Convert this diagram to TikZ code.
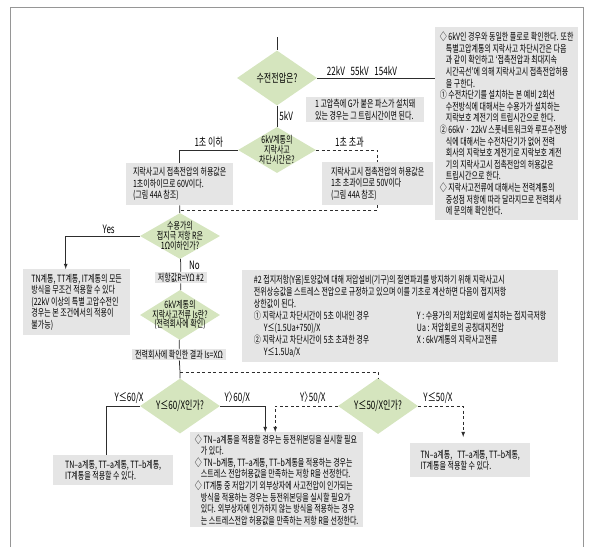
\documentclass[tikz,border=0pt]{standalone}
\usepackage{fontspec}
\setmainfont[FakeStretch=0.7]{Noto Sans CJK KR}
\usetikzlibrary{shapes.geometric}

\definecolor{askgreen}{RGB}{213,229,190}
\definecolor{notegray}{RGB}{229,229,229}
\definecolor{framegray}{RGB}{150,150,150}
\definecolor{flowline}{RGB}{45,45,45}

\tikzset{
  ask/.style={diamond, fill=askgreen, align=center, inner sep=-8pt, aspect=1.6,
    minimum width=80, minimum height=50, font=\fontsize{10}{9.8}\selectfont},
  bigask/.style={ask, font=\fontsize{11.5}{12}\selectfont},
  note/.style={fill=notegray, align=left, anchor=north west,
    inner xsep=3pt, inner ysep=2pt, font=\fontsize{10}{11.6}\selectfont},
  tag/.style={fill=notegray, inner xsep=3pt, inner ysep=1pt,
    font=\fontsize{10}{10}\selectfont},
  flow/.style={draw=flowline, line width=0.75pt},
  flowdash/.style={flow, dash pattern=on 3pt off 2.5pt},
  answer/.style={font=\fontsize{11.5}{12}\selectfont, inner sep=2pt}
}

\begin{document}
\begin{tikzpicture}[x=1pt, y=-1pt]
  \useasboundingbox (0, 0) rectangle (591, 547);
  \draw [framegray, line width=1pt] (10, 547) |- (583, 7) -- (583, 547);

  \coordinate (start) at (277, 37);
  \node (voltQ) [bigask, minimum height=55] at (277, 78) {수전전압은?};
  \node (tripQ) [ask, minimum width=78, minimum height=46] at (277, 150) {
    6kV계통의\\지락사고\\차단시간은?
  };
  \node (gNote) [note, minimum width=118, minimum height=25] at (306, 97) {
    1 고압측에 G가 붙은 파스가 설치돼\\
    있는 경우는 그 트립시간이면 된다.
  };
  \node (voltNote) [note, minimum width=143, minimum height=193] at (435, 27) {
    ◇ 6kV인 경우와 동일한 플로로 확인한다. 또한\\
    \hspace*{6pt}특별고압계통의 지락사고 차단시간은 다음\\
    \hspace*{6pt}과 같이 확인하고 `접촉전압과 최대지속\\
    \hspace*{6pt}시간곡선'에 의해 지락사고시 접촉전압허용\\
    \hspace*{6pt}을 구한다.\\
    ① 수전차단기를 설치하는 본 예비 2회선\\
    \hspace*{6pt}수전방식에 대해서는 수용가가 설치하는\\
    \hspace*{6pt}지락보호 계전기의 트립시간으로 한다.\\
    ② 66kV · 22kV 스폿네트워크와 루프수전방\\
    \hspace*{6pt}식에 대해서는 수전차단기가 없어 전력\\
    \hspace*{6pt}회사의 지락보호 계전기로 지락보호 계전\\
    \hspace*{6pt}기의 지락사고시 접촉전압의 허용값은\\
    \hspace*{6pt}트립시간으로 한다.\\
    ◇ 지락사고전류에 대해서는 전력계통의\\
    \hspace*{6pt}중성점 저항에 따라 달라지므로 전력회사\\
    \hspace*{6pt}에 문의해 확인한다.
  };

  \node (shortBox) [note, minimum width=107, minimum height=42] at (126, 163) {
    지락사고시 접촉전압의 허용값은\\
    1초이하이므로 60V이다.\\
    (그림 44A 참조)
  };
  \node (longBox) [note, minimum width=111, minimum height=43] at (322, 162) {
    지락사고시 접촉전압의 허용값은\\
    1초 초과이므로 50V이다\\
    (그림 44A 참조)
  };

  \node (groundQ) [ask, minimum height=46] at (180, 236) {
    수용가의\\접지극 저항 R은\\1Ω이하인가?
  };
  \node (allBox) [note, minimum width=107, minimum height=66] at (23, 269) {
    TN계통, TT계통, IT계통의 모든\\
    방식을 무조건 적용할 수 있다\\
    (22kV 이상의 특별 고압수전인\\
    경우는 본 조건에서의 적용이\\
    불가능)
  };
  \node (resBox) [tag] at (181, 277.5) {저항값R=YΩ \#2};
  \node (currentQ) [ask, minimum height=50] at (180, 315) {
    6kV계통의\\지락사고전류 Is란?\\(전력회사에 확인)
  };
  \node (resultBox) [tag] at (179, 354.5) {전력회사에 확인한 결과 Is=XΩ};

  \node (limitNote) [note, inner xsep=7pt, minimum width=316, minimum height=92,
    font=\fontsize{10}{12}\selectfont] at (242, 270) {
    \#2 접지저항(Y옴)토양값에 대해 저압설비(기구)의 절연파괴를 방지하기 위해 지락사고시\\
    전위상승값을 스트레스 전압으로 규정하고 있으며 이를 기초로 계산하면 다음이 접지저항\\
    상한값이 된다.\\
    \makebox[163pt][l]{① 지락사고 차단시간이 5초 이내인 경우}Y : 수용가의 저압회로에 설치하는 접지극저항\\
    \makebox[163pt][l]{\hspace*{10pt}Y≤(1.5Ua+750)/X}Ua : 저압회로의 공칭대지전압\\
    \makebox[163pt][l]{② 지락사고 차단시간이 5초 초과한 경우}X : 6kV계통의 지락사고전류\\
    \hspace*{10pt}Y≤1.5Ua/X
  };

  \node (q60) [bigask, minimum height=55] at (180, 406) {Y≤60/X인가?};
  \node (q50) [bigask, minimum height=56] at (378, 406) {Y≤50/X인가?};

  \node (lowBox) [note, minimum width=120, minimum height=30] at (53, 455) {
    TN--a계통, TT--a계통, TT--b계통,\\
    IT계통을 적용할 수 있다.
  };
  \node (bondBox) [note, minimum width=173, minimum height=95] at (190, 432) {
    ◇ TN--a계통을 적용할 경우는 등전위본딩을 실시할 필요\\
    \hspace*{6pt}가 있다.\\
    ◇ TN--b계통, TT--a계통, TT--b계통을 적용하는 경우는\\
    \hspace*{6pt}스트레스 전압허용값을 만족하는 저항 R을 선정한다.\\
    ◇ IT계통 중 저압기기 외부상자에 사고전압이 인가되는\\
    \hspace*{6pt}방식을 적용하는 경우는 등전위본딩을 실시할 필요가\\
    \hspace*{6pt}있다. 외부상자에 인가하지 않는 방식을 적용하는 경우\\
    \hspace*{6pt}는 스트레스전압 허용값을 만족하는 저항 R을 선정한다.
  };
  \node (highBox) [note, minimum width=120, minimum height=34] at (410, 443) {
    TN--a계통,\enspace TT--a계통, TT--b계통,\\
    IT계통을 적용할 수 있다.
  };

  \draw [flow] (start) -- (voltQ);
  \draw [flow] (voltQ) -- (tripQ) node [answer, right, midway] {5kV};
  \draw [flow] (voltQ.east) -- (voltQ.east -| voltNote.west)
    node [answer, above, pos=0.38] {22kV\enspace 55kV\enspace 154kV};
  \draw [flow] (tripQ.west) -| (shortBox.north)
    node [answer, above, pos=0.25] {1초 이하};
  \draw [flowdash] (tripQ.east) -| (longBox.north)
    node [answer, above, pos=0.27] {1초 초과};
  \coordinate (merge) at (180, 210);
  \draw [flowdash] (longBox.south) |- (merge);
  \draw [flow] (shortBox) -- (groundQ);

  \draw [flow, ->, >=latex] (groundQ.west) -| ([xshift=-11pt]allBox.north)
    node [answer, above, pos=0.21] {Yes};
  \draw [flow] (groundQ) -- (resBox)
    node [answer, right, midway, xshift=6pt] {No};
  \draw [flow] (resBox) -- (currentQ);
  \draw [flow] (currentQ) -- (resultBox);
  \coordinate (split) at (180, 372);
  \draw [flow] (resultBox) -- (split) -- (q60);
  \draw [flowdash] (split) -| (q50);

  \draw [flow] (q60.west) -| ([xshift=-7pt]lowBox.north)
    node [answer, above, pos=0.16] {Y≤60/X};
  \draw [flow, ->, >=latex] (q60.east) -| ([xshift=-11.5pt]bondBox.north)
    node [answer, above, pos=0.19] {Y〉\kern-3.5pt60/X};
  \draw [flowdash, ->, >=latex] (q50.west) -| ([xshift=-1.5pt]bondBox.north)
    node [answer, above, pos=0.2] {Y〉\kern-3.5pt50/X};
  \draw [flowdash, ->, >=latex, shorten >=6pt] (q50.east) -| ([xshift=-7pt]highBox.north)
    node [answer, above, pos=0.22] {Y≤50/X};
\end{tikzpicture}
\end{document}
